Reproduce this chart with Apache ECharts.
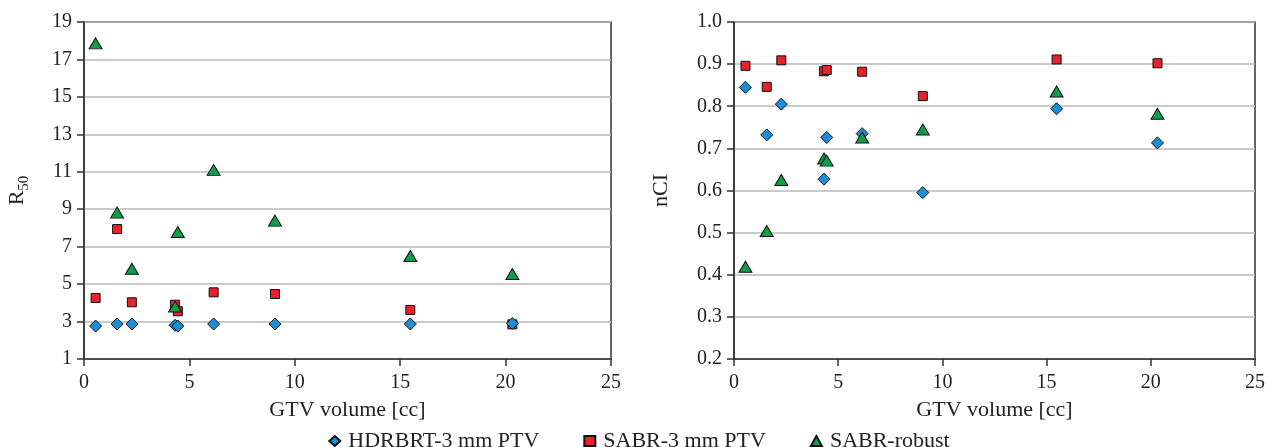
<!DOCTYPE html>
<html>
<head>
<meta charset="utf-8">
<script src="https://cdn.jsdelivr.net/npm/echarts@6/dist/echarts.min.js"></script>
<style>
html,body{margin:0;padding:0;background:#fff;}
#chart{width:1278px;height:447px;}
</style>
</head>
<body>
<div id="chart"></div>
<script>
// GTV volume [cc] per patient (shared x values)
var gtv = [0.55, 1.57, 2.27, 4.32, 4.45, 6.15, 9.06, 15.48, 20.32];
// R50 values
var r50Hdr    = [2.76, 2.87, 2.87, 2.80, 2.76, 2.87, 2.87, 2.87, 2.90];
var r50Sabr   = [4.26, 7.94, 4.03, 3.90, 3.55, 4.56, 4.47, 3.62, 2.85];
var r50Robust = [17.86, 8.82, 5.82, 3.80, 7.78, 11.10, 8.39, 6.50, 5.54];
// nCI values
var nciHdr    = [0.845, 0.732, 0.805, 0.627, 0.726, 0.735, 0.595, 0.794, 0.713];
var nciSabr   = [0.896, 0.846, 0.909, 0.883, 0.886, 0.882, 0.824, 0.911, 0.902];
var nciRobust = [0.419, 0.504, 0.625, 0.676, 0.671, 0.726, 0.745, 0.835, 0.782];
var seriesNames = ['HDRBRT-3 mm PTV', 'SABR-3 mm PTV', 'SABR-robust'];
var xTitle = 'GTV volume [cc]';

function pairs(xs, ys){ return xs.map(function(x,i){ return [x, ys[i]]; }); }

var FONT = 'Liberation Serif';
var tickTxt = {fontFamily: FONT, fontSize: 20, color: '#222'};
var titleTxt = {fontFamily: FONT, fontSize: 22, color: '#222'};
var axisLineStyle = {color: '#333', width: 1.5};

var styles = [
  {symbol: 'diamond', size: 12, color: '#1a8fd8', z: 3},
  {symbol: 'rect', size: 9, color: '#e8212b', z: 2},
  {symbol: 'triangle', size: [13, 11], color: '#0e9e4a', z: 4}
];

function mkSeries(name, idx, gridIdx, ys){
  var s = styles[idx];
  return {
    name: name, type: 'scatter', xAxisIndex: gridIdx, yAxisIndex: gridIdx,
    symbol: s.symbol, symbolSize: s.size, z: s.z,
    itemStyle: {color: s.color, borderColor: '#111', borderWidth: 1, opacity: 1},
    data: pairs(gtv, ys)
  };
}

function xAxis(gridIdx){
  return {
    type: 'value', gridIndex: gridIdx, min: 0, max: 25, interval: 5,
    name: xTitle, nameLocation: 'middle', nameGap: 40,
    nameTextStyle: titleTxt,
    axisLine: {show: true, onZero: false, lineStyle: axisLineStyle},
    axisTick: {show: true, inside: false, length: 7, lineStyle: axisLineStyle},
    axisLabel: Object.assign({margin: 14}, tickTxt),
    splitLine: {show: false}
  };
}

function yAxis(gridIdx, opts){
  return Object.assign({
    type: 'value', gridIndex: gridIdx, nameLocation: 'middle',
    nameTextStyle: Object.assign({}, titleTxt),
    axisLine: {show: true, onZero: false, lineStyle: axisLineStyle},
    axisTick: {show: true, inside: false, length: 7, lineStyle: axisLineStyle},
    splitLine: {show: true, lineStyle: {color: '#b8b8b8', width: 1.5}}
  }, opts);
}

var chart = echarts.init(document.getElementById('chart'), null, {renderer: 'canvas'});
chart.setOption({
  animation: false,
  backgroundColor: '#fff',
  grid: [
    {left: 84, top: 22, width: 527, height: 337, show: true, borderColor: '#333', borderWidth: 1.5},
    {left: 734, top: 22, width: 521, height: 337, show: true, borderColor: '#333', borderWidth: 1.5}
  ],
  legend: {
    data: seriesNames, top: 425, left: 'center', itemGap: 44,
    itemWidth: 11, itemHeight: 10,
    textStyle: Object.assign({padding: [0, 0, 0, 3]}, titleTxt)
  },
  xAxis: [xAxis(0), xAxis(1)],
  yAxis: [
    yAxis(0, {min: 1, max: 19, interval: 2, name: 'R{sub|50}', nameGap: 52,
      nameTextStyle: Object.assign({}, titleTxt, {rich: {sub: {fontFamily: FONT, fontSize: 15, color: '#222', verticalAlign: 'bottom', lineHeight: 30}}}),
      axisLabel: Object.assign({margin: 12}, tickTxt)}),
    yAxis(1, {min: 0.2, max: 1.0, interval: 0.1, name: 'nCI', nameGap: 62,
      axisLabel: Object.assign({margin: 12, formatter: function(v){ return v.toFixed(1); }}, tickTxt)})
  ],
  series: [
    mkSeries(seriesNames[0], 0, 0, r50Hdr),
    mkSeries(seriesNames[1], 1, 0, r50Sabr),
    mkSeries(seriesNames[2], 2, 0, r50Robust),
    mkSeries(seriesNames[0], 0, 1, nciHdr),
    mkSeries(seriesNames[1], 1, 1, nciSabr),
    mkSeries(seriesNames[2], 2, 1, nciRobust)
  ]
});
</script>
</body>
</html>
